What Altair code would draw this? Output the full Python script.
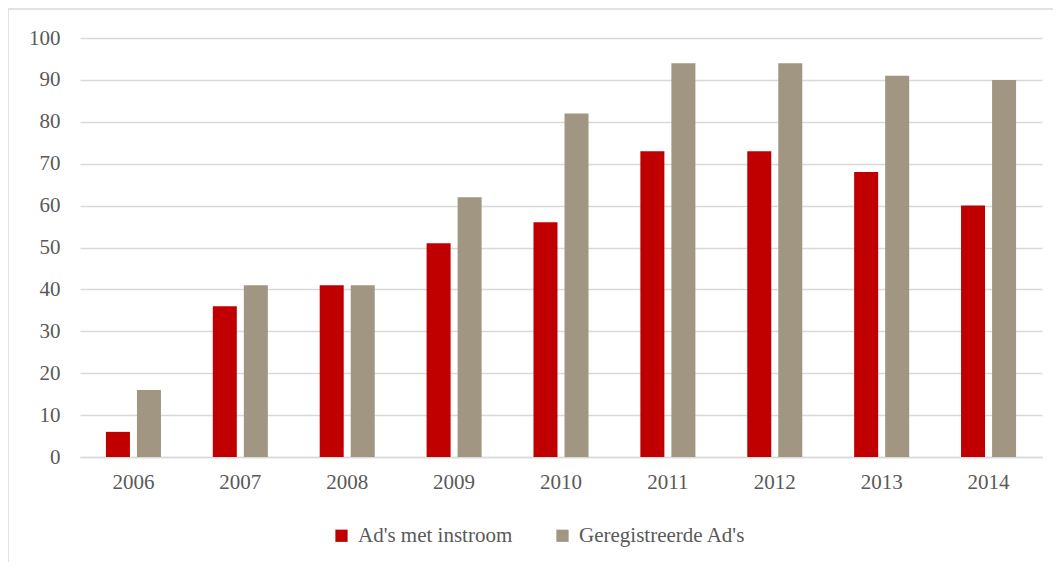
import altair as alt
import pandas as pd

years = ["2006", "2007", "2008", "2009", "2010", "2011", "2012", "2013", "2014"]
instroom = [6, 36, 41, 51, 56, 73, 73, 68, 60]
geregistreerd = [16, 41, 41, 62, 82, 94, 94, 91, 90]
series = ["Ad's met instroom", "Geregistreerde Ad's"]
colors = ["#c00000", "#a09682"]

rows = []
for i, y in enumerate(years):
    rows.append({"jaar": y, "serie": series[0], "waarde": instroom[i]})
    rows.append({"jaar": y, "serie": series[1], "waarde": geregistreerd[i]})
df = pd.DataFrame(rows)

FONT = "Liberation Serif"
TXT = "#595959"
GRID = "#d9d9d9"
W, H = 962, 419

bars = alt.Chart(df).mark_bar().encode(
    x=alt.X("jaar:N", sort=years, title=None,
            scale=alt.Scale(paddingInner=0.485, paddingOuter=0.2425),
            axis=alt.Axis(labelAngle=0, ticks=False, grid=False, domainColor=GRID, domainWidth=1.5,
                          labelPadding=14, labelFontSize=21, labelFont=FONT, labelColor=TXT)),
    xOffset=alt.XOffset("serie:N", sort=series, scale=alt.Scale(paddingInner=0.226, paddingOuter=0)),
    y=alt.Y("waarde:Q", title=None,
            scale=alt.Scale(domain=[0, 100], nice=False),
            axis=alt.Axis(values=list(range(0, 101, 10)), domain=False, ticks=False,
                          gridColor=GRID, gridWidth=1.5, labelPadding=20,
                          labelFontSize=21, labelFont=FONT, labelColor=TXT)),
    color=alt.Color("serie:N", sort=series, title=None,
                    scale=alt.Scale(domain=series, range=colors),
                    legend=alt.Legend(orient="none", direction="horizontal", legendX=251, legendY=487,
                                      symbolType="square", symbolSize=150, symbolStrokeWidth=0,
                                      labelFontSize=21, labelFont=FONT, labelColor=TXT, labelLimit=400,
                                      columnPadding=39, labelOffset=6)),
)

frame = alt.Chart(pd.DataFrame({"k": [0]})).mark_rect(
    fill=None, stroke=GRID, strokeWidth=1.5
).encode(x=alt.value(-72), x2=alt.value(W + 60), y=alt.value(-29), y2=alt.value(H + 160))

chart = alt.layer(frame, bars).properties(
    width=W, height=H,
    background="white",
    padding={"left": 72, "top": 30, "right": 11, "bottom": 105},
    autosize=alt.AutoSizeParams(type="none"),
).configure_view(stroke=None)

chart.save("out.html", embed_options={"renderer": "svg", "actions": False})
